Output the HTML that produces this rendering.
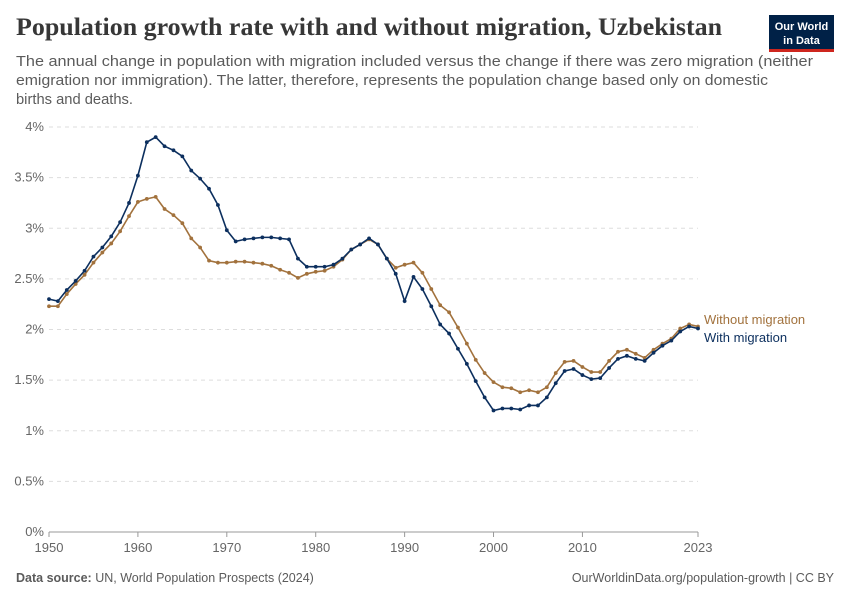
<!DOCTYPE html>
<html><head><meta charset="utf-8"><style>
body{margin:0;background:#fff;width:850px;height:600px;overflow:hidden;font-family:"Liberation Sans",sans-serif}
</style></head><body>
<svg width="850" height="600" xmlns="http://www.w3.org/2000/svg">
<text x="16" y="35" font-family="Liberation Serif" font-size="25" font-weight="bold" fill="#373737" textLength="706" lengthAdjust="spacingAndGlyphs">Population growth rate with and without migration, Uzbekistan</text>
<g font-size="14.5" fill="#5b5b5b">
<text x="16" y="66" textLength="797" lengthAdjust="spacingAndGlyphs">The annual change in population with migration included versus the change if there was zero migration (neither</text>
<text x="16" y="85" textLength="752" lengthAdjust="spacingAndGlyphs">emigration nor immigration). The latter, therefore, represents the population change based only on domestic</text>
<text x="16" y="104" textLength="117" lengthAdjust="spacingAndGlyphs">births and deaths.</text></g>
<g><rect x="769" y="15" width="65" height="36" fill="#002147"/><rect x="769" y="49" width="65" height="3" fill="#ce261e"/>
<text x="801.5" y="30" text-anchor="middle" font-size="11" font-weight="bold" fill="#fff">Our World</text><text x="801.5" y="44" text-anchor="middle" font-size="11" font-weight="bold" fill="#fff">in Data</text></g>
<g id="grid"></g><g id="axes"></g><g id="series"></g>
<text x="16" y="582" font-size="12.5" fill="#5b5b5b"><tspan font-weight="bold">Data source:</tspan> UN, World Population Prospects (2024)</text>
<text x="834" y="582" text-anchor="end" font-size="12.5" fill="#5b5b5b">OurWorldinData.org/population-growth | CC BY</text>
</svg>
<script>
const years=[];for(let y=1950;y<=2023;y++)years.push(y);
const withMig=[2.30,2.28,2.39,2.48,2.58,2.72,2.81,2.92,3.06,3.25,3.52,3.85,3.90,3.81,3.77,3.71,3.57,3.49,3.39,3.23,2.98,2.87,2.89,2.90,2.91,2.91,2.90,2.89,2.70,2.62,2.62,2.62,2.64,2.70,2.79,2.84,2.90,2.84,2.70,2.55,2.28,2.52,2.40,2.23,2.05,1.96,1.81,1.66,1.49,1.33,1.20,1.22,1.22,1.21,1.25,1.25,1.33,1.47,1.59,1.61,1.55,1.51,1.52,1.62,1.71,1.74,1.71,1.69,1.77,1.84,1.89,1.98,2.03,2.01];
const withoutMig=[2.23,2.23,2.35,2.45,2.54,2.66,2.76,2.85,2.97,3.12,3.26,3.29,3.31,3.19,3.13,3.05,2.90,2.81,2.68,2.66,2.66,2.67,2.67,2.66,2.65,2.63,2.59,2.56,2.51,2.55,2.57,2.58,2.62,2.69,2.79,2.84,2.89,2.84,2.70,2.61,2.64,2.66,2.56,2.40,2.24,2.17,2.02,1.86,1.70,1.57,1.48,1.43,1.42,1.38,1.40,1.38,1.43,1.57,1.68,1.69,1.63,1.58,1.58,1.69,1.78,1.80,1.76,1.72,1.80,1.86,1.91,2.01,2.05,2.03];
const yTicks=[0,0.5,1,1.5,2,2.5,3,3.5,4];
const yTickLabels=["0%","0.5%","1%","1.5%","2%","2.5%","3%","3.5%","4%"];
const xTicks=[1950,1960,1970,1980,1990,2000,2010,2023];
const NS="http://www.w3.org/2000/svg";
const X=v=>49+(v-1950)*(649/73), Y=v=>532-v*101.25;
function mk(t,a,p){const e=document.createElementNS(NS,t);for(const k in a)e.setAttribute(k,a[k]);p.appendChild(e);return e;}
const grid=document.getElementById('grid'),axes=document.getElementById('axes'),ser=document.getElementById('series');
yTicks.forEach((v,i)=>{
 const l=mk('line',{x1:49,x2:698,y1:Y(v),y2:Y(v),stroke:v===0?'#999':'#ddd','stroke-dasharray':v===0?'':'4,4'},grid);
 
 
 const t=mk('text',{x:44,y:Y(v)+4,'text-anchor':'end','font-size':13,fill:'#666'},axes);t.textContent=yTickLabels[i];
 
 
});
xTicks.forEach(v=>{
 mk('line',{x1:X(v),x2:X(v),y1:532,y2:537,stroke:'#999'},axes);
 const t=mk('text',{x:X(v),y:552,'text-anchor':'middle','font-size':13,fill:'#666'},axes);t.textContent=v;
 
 
});
function draw(vals,col,name){
 const g=mk('g',{},ser);
 
 
 mk('polyline',{points:vals.map((v,i)=>X(years[i])+','+Y(v)).join(' '),fill:'none',stroke:col,'stroke-width':1.6},g);
 vals.forEach((v,i)=>{const c=mk('circle',{cx:X(years[i]),cy:Y(v),r:1.9,fill:col},g);
 
 });
}
draw(withoutMig,'#a2723d','series-without-migration');
draw(withMig,'#0c2f5e','series-with-migration');
const l1=mk('text',{x:704,y:324,'font-size':13,fill:'#a2723d'},ser);l1.textContent='Without migration';


const l2=mk('text',{x:704,y:342,'font-size':13,fill:'#0c2f5e'},ser);l2.textContent='With migration';


</script>
</body></html>
